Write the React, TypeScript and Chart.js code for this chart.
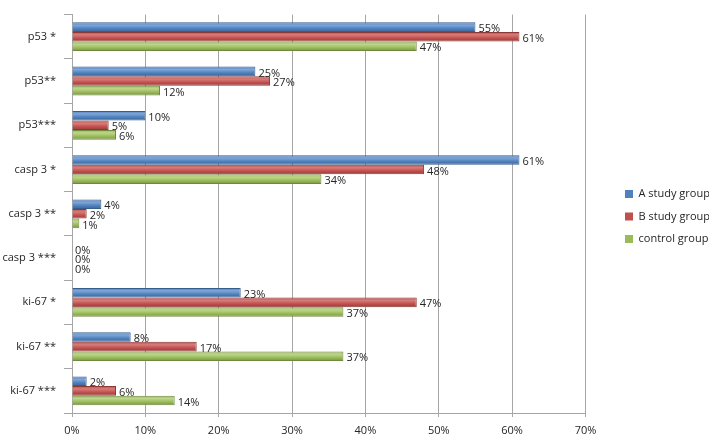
import React, { useEffect, useRef } from "react";
import { Chart, registerables } from "chart.js";

Chart.register(...registerables);

const categories = ["p53 *", "p53**", "p53***", "casp 3 *", "casp 3 **", "casp 3 ***", "ki-67 *", "ki-67 **", "ki-67 ***"];
const seriesA = [55, 25, 10, 61, 4, 0, 23, 8, 2];
const seriesB = [61, 27, 5, 48, 2, 0, 47, 17, 6];
const seriesControl = [47, 12, 6, 34, 1, 0, 37, 37, 14];
const seriesNames = ["A study group", "B study group", "control group"];
const xTicks = [0, 10, 20, 30, 40, 50, 60, 70];

const FONT = "'Open Sans', sans-serif";
const TEXT = "#262626";
const CAT_PCT = 0.65;

// [highlight, base, shadow, border]
const palettes = [
  ["#7FA6D8", "#4F81BD", "#3A6497", "#385D8A"],
  ["#D77C79", "#C0504D", "#963B39", "#8C3836"],
  ["#BCD68A", "#9BBB59", "#779341", "#71893F"],
];

// Non-shared base colour; the real cylinder-like gradient is set from each bar's geometry.
const baseFill = (pal: string[]) => (c: any) => pal[1];

const barGradients = {
  id: "barGradients",
  beforeDatasetsDraw(chart: any) {
    const ctx = chart.ctx;
    chart.data.datasets.forEach((_ds: any, di: number) => {
      const pal = palettes[di];
      const meta = chart.getDatasetMeta(di);
      meta.data.forEach((el: any) => {
        const h = el.height;
        const top = el.y - h / 2;
        const g = ctx.createLinearGradient(0, top, 0, top + h);
        g.addColorStop(0, pal[1]);
        g.addColorStop(0.3, pal[0]);
        g.addColorStop(0.65, pal[1]);
        g.addColorStop(1, pal[2]);
        if (el.options && !Object.isFrozen(el.options)) el.options.backgroundColor = g;
      });
    });
  },
};

const valueLabels = {
  id: "valueLabels",
  afterDatasetsDraw(chart: any) {
    const ctx = chart.ctx;
    ctx.save();
    ctx.font = `11px ${FONT}`;
    ctx.fillStyle = TEXT;
    ctx.textAlign = "left";
    ctx.textBaseline = "middle";
    chart.data.datasets.forEach((ds: any, di: number) => {
      const meta = chart.getDatasetMeta(di);
      meta.data.forEach((el: any, i: number) => {
        ctx.fillText(`${ds.data[i]}%`, el.x + 3, el.y + 2);
      });
    });
    ctx.restore();
  },
};

const legendShift = {
  id: "legendShift",
  afterLayout(chart: any) {
    const lg = chart.legend;
    if (!lg) return;
    const pad = lg.options.labels.padding;
    const dx = 625 - (lg.left + pad);
    lg.left += dx;
    lg.right += dx;
    lg.top -= 5;
    lg.bottom -= 5;
  },
};

export default function App() {
  const ref = useRef<HTMLCanvasElement>(null);
  useEffect(() => {
    document.body.style.margin = "0";
    const chart = new Chart(ref.current!, {
      type: "bar",
      data: {
        labels: categories,
        datasets: [
          { label: seriesNames[0], data: seriesA, backgroundColor: baseFill(palettes[0]), borderColor: palettes[0][3], borderWidth: 1 },
          { label: seriesNames[1], data: seriesB, backgroundColor: baseFill(palettes[1]), borderColor: palettes[1][3], borderWidth: 1 },
          { label: seriesNames[2], data: seriesControl, backgroundColor: baseFill(palettes[2]), borderColor: palettes[2][3], borderWidth: 1 },
        ],
      },
      options: {
        indexAxis: "y",
        animation: false,
        responsive: false,
        layout: { padding: { top: 8, left: 0, right: 17, bottom: 0 } },
        datasets: { bar: { categoryPercentage: CAT_PCT, barPercentage: 1 } },
        scales: {
          x: {
            min: 0,
            max: 70,
            afterBuildTicks: (axis: any) => {
              axis.ticks = xTicks.map((v) => ({ value: v }));
            },
            afterFit: (s: any) => {
              s.height = 22;
            },
            ticks: { callback: (v: any) => `${v}%`, color: TEXT, font: { family: FONT, size: 11 }, padding: 7 },
            grid: { color: "#A6A6A6", tickLength: 4 },
            border: { color: "#A6A6A6" },
          },
          y: {
            afterFit: (s: any) => {
              s.width = 72;
            },
            ticks: { color: TEXT, font: { family: FONT, size: 11 }, padding: 8 },
            grid: { display: true, drawOnChartArea: false, offset: true, color: "#A6A6A6", tickLength: 8 },
            border: { color: "#A6A6A6" },
          },
        },
        plugins: {
          legend: {
            position: "right",
            labels: {
              boxWidth: 8,
              boxHeight: 8,
              padding: 11.5,
              color: TEXT,
              font: { family: FONT, size: 11 },
              generateLabels: (ch: any) =>
                Chart.defaults.plugins.legend.labels.generateLabels(ch).map((it: any, i: number) => ({
                  ...it,
                  fillStyle: palettes[i][1],
                  strokeStyle: palettes[i][1],
                  lineWidth: 0,
                })),
            },
          },
          tooltip: { enabled: false },
        },
      },
      plugins: [barGradients, valueLabels, legendShift],
    });
    return () => chart.destroy();
  }, []);
  return <canvas ref={ref} width={709} height={435} />;
}
